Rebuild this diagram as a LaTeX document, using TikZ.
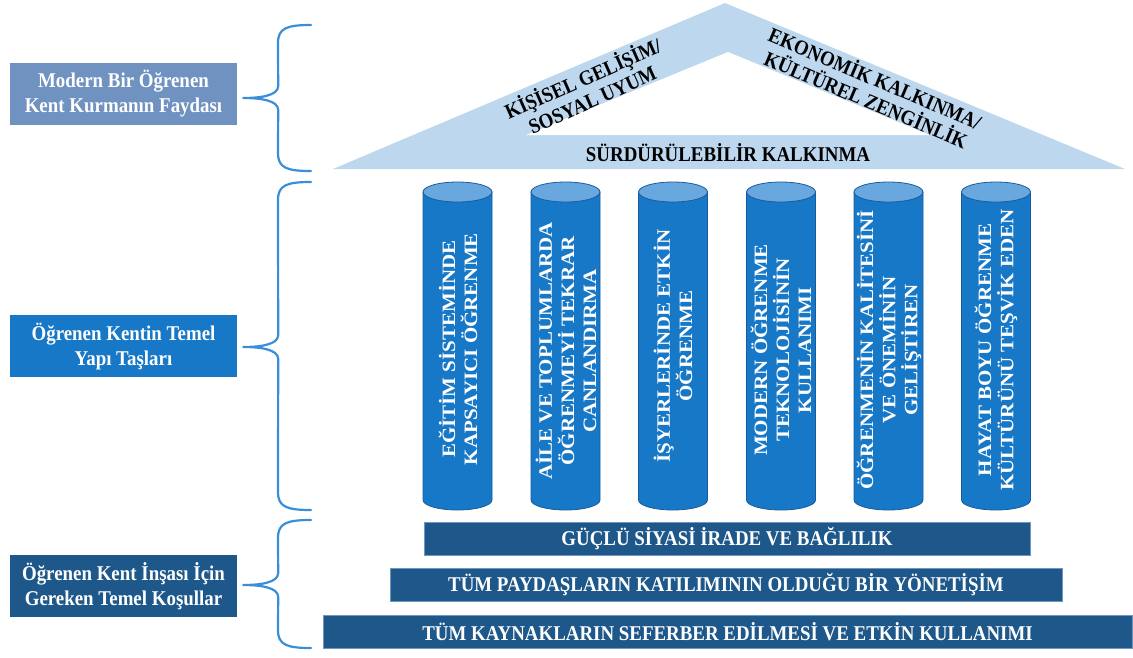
\documentclass[tikz,border=0pt]{standalone}
\usepackage{fontspec}
\setmainfont{Liberation Serif}
\newfontfamily\condfont{Liberation Serif}[FakeStretch=0.9]
\usetikzlibrary{calc}
\definecolor{roofc}{RGB}{189,215,238}
\definecolor{colbody}{RGB}{22,120,198}
\definecolor{coltop}{RGB}{104,168,222}
\definecolor{colline}{RGB}{25,92,158}
\definecolor{boxa}{RGB}{112,146,192}
\definecolor{boxb}{RGB}{22,120,198}
\definecolor{bandc}{RGB}{30,88,138}
\definecolor{bandedge}{RGB}{110,150,190}
\definecolor{bracec}{RGB}{58,142,215}
\newcommand\mycolumn[1]{%
  \path[fill=colbody, draw=colline, line width=0.8pt]
    ({#1-34.5},-192) -- ({#1-34.5},-500)
    arc[start angle=180, end angle=360, x radius=34.5, y radius=10]
    -- ({#1+34.5},-192) -- cycle;
  \path[fill=coltop, draw=colline, line width=0.8pt]
    (#1,-192) ellipse[x radius=34.5, y radius=10];}
\newcommand\mybrace[3]{% top y, tip name, bottom y
  \draw[bracestyle] (311,-#1) .. controls (287,-#1) and (278,{-#1-3}) .. (278,{-#1-18})
    -- ($(#2)+(35,12)$) .. controls ($(#2)+(35,2)$) and ($(#2)+(16,0)$) .. (#2)
    .. controls ($(#2)+(16,0)$) and ($(#2)+(35,-2)$) .. ($(#2)+(35,-12)$)
    -- (278,{-#3+18}) .. controls (278,{-#3+3}) and (287,-#3) .. (311,-#3);}
\begin{document}
\begin{tikzpicture}[x=1pt,y=1pt,
  lbox/.style={rectangle, minimum width=227pt, minimum height=62pt, inner sep=0pt,
    text=white, align=center, font=\condfont\bfseries\fontsize{21}{25}\selectfont},
  band/.style={rectangle, fill=bandc, draw=bandedge, line width=0.8pt,
    minimum height=33pt, inner sep=0pt, text=white,
    font=\condfont\bfseries\fontsize{21}{25}\selectfont},
  coltext/.style={rotate=90, yscale=0.9, transform shape, text=white, align=center,
    inner sep=0pt, font=\bfseries\fontsize{21}{24.5}\selectfont},
  rooftext/.style={align=center, inner sep=0pt, text=black,
    font=\condfont\bfseries\fontsize{21}{23}\selectfont},
  bracestyle/.style={draw=bracec, line width=2.2pt, line cap=round, line join=round}]
\useasboundingbox (0,0) rectangle (1133,-657);
\fill[white] (0,0) rectangle (1133,-657);
% roof
\fill[roofc] (333,-169) -- (725,-3) -- (1125,-169) -- cycle;
\fill[white] (526,-135) -- (728,-52) -- (930,-135) -- cycle;
\node[rooftext, rotate=24] (rl) at (587,-88) {KİŞİSEL GELİŞİM/\\SOSYAL UYUM};
\node[rooftext, rotate=-23] (rr) at (871,-88) {EKONOMİK KALKINMA/\\KÜLTÜREL ZENGİNLİK};
\node[rooftext] (sk) at (728,-153) {SÜRDÜRÜLEBİLİR KALKINMA};
% columns
\mycolumn{457.5}\mycolumn{565.5}\mycolumn{673}\mycolumn{781}\mycolumn{888.5}\mycolumn{996}
\node[coltext] (c1) at (458,-349) {EĞİTİM SİSTEMİNDE\\KAPSAYICI ÖĞRENME};
\node[coltext] (c2) at (566,-351) {AİLE VE TOPLUMLARDA\\ÖĞRENMEYİ TEKRAR\\CANLANDIRMA};
\node[coltext] (c3) at (673,-346) {İŞYERLERİNDE ETKİN\\ÖĞRENME};
\node[coltext] (c4) at (781,-350) {MODERN ÖĞRENME\\TEKNOLOJİSİNİN\\KULLANIMI};
\node[coltext] (c5) at (889,-350) {ÖĞRENMENİN KALİTESİNİ\\VE ÖNEMİNİN\\GELİŞTİREN};
\node[coltext] (c6) at (996,-350) {HAYAT BOYU ÖĞRENME\\KÜLTÜRÜNÜ TEŞVİK EDEN};
% bands
\node[band, minimum width=606pt] (k1) at (727,-538.5) {GÜÇLÜ SİYASİ İRADE VE BAĞLILIK};
\node[band, minimum width=672pt] (k2) at (726,-584.5) {TÜM PAYDAŞLARIN KATILIMININ OLDUĞU BİR YÖNETİŞİM};
\node[band, minimum width=809pt] (k3) at (727.5,-631.5) {TÜM KAYNAKLARIN SEFERBER EDİLMESİ VE ETKİN KULLANIMI};
% left boxes
\node[lbox, fill=boxa] (l1) at (123.5,-94) {Modern Bir Öğrenen\\Kent Kurmanın Faydası};
\node[lbox, fill=boxb] (l2) at (123.5,-346) {Öğrenen Kentin Temel\\Yapı Taşları};
\node[lbox, fill=bandc] (l3) at (123.5,-586) {Öğrenen Kent İnşası İçin\\Gereken Temel Koşullar};
% braces
\coordinate (t1) at ($(l1.east)+(6,-4)$);
\coordinate (t2) at ($(l2.east)+(6,-1)$);
\coordinate (t3) at ($(l3.east)+(6,1)$);
\mybrace{25}{t1}{171}
\mybrace{182}{t2}{510}
\mybrace{520}{t3}{648}
\end{tikzpicture}
\end{document}
